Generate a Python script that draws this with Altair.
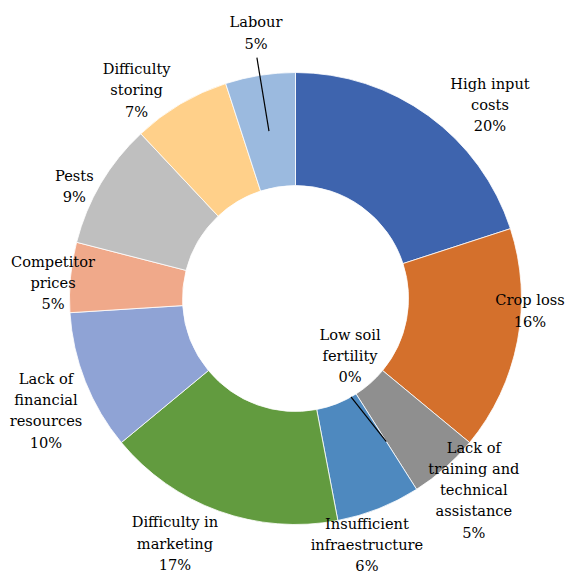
import math
import altair as alt
import pandas as pd

# ---------------- data ----------------
categories = [
    "High input costs", "Crop loss", "Lack of training and technical assistance",
    "Low soil fertility", "Insufficient infraestructure", "Difficulty in marketing",
    "Lack of financial resources", "Competitor prices", "Pests",
    "Difficulty storing", "Labour",
]
label_lines = [
    ["High input", "costs"], ["Crop loss"],
    ["Lack of", "training and", "technical", "assistance"],
    ["Low soil", "fertility"], ["Insufficient", "infraestructure"],
    ["Difficulty in", "marketing"], ["Lack of", "financial", "resources"],
    ["Competitor", "prices"], ["Pests"], ["Difficulty", "storing"], ["Labour"],
]
values = [20, 16, 5, 0, 6, 17, 10, 5, 9, 7, 5]

# ---------------- styling / layout ----------------
colors = ["#3E64AE", "#D4702C", "#8F8F8F", "#E8B000", "#4E89BF", "#629B3F",
          "#8FA3D5", "#F0A98A", "#BFBFBF", "#FFD08A", "#9BBADF"]
W, H = 541, 551
PAD = {"left": 25, "top": 23, "right": 0, "bottom": 1}
R_OUT, R_IN = 226, 113
R_MID = (R_OUT + R_IN) / 2
FONT = "DejaVu Serif"
FS, LH = 14.6, 21.3
# manual label placement (the original's labels were dragged by hand):
# centre of each label block, as angle nudge from slice middle and radius
label_nudge_deg = [9.3, -7.5, -1.4, -10.6, 5.5, 6.3, -2.8, -2.0, -4.0, -6.9, 0.5]
label_radius = [273.6, 234.9, 262.5, 80, 257.6, 274, 274, 242.9, 247.3, 261, 267.4]
# leader lines: label index -> start point (deg, radius)
leaders = {10: (350.9, 244), 3: (150.6, 113)}

total = sum(values)
cum = 0
mids = []
for v in values:
    mids.append(cum + v / 2)
    cum += v

texts, thetas, radii = [], [], []
for lines_, v, m, nd, r in zip(label_lines, values, mids, label_nudge_deg, label_radius):
    ls = lines_ + [f"{v}%"]
    texts.append("\n".join(ls))
    a = math.radians(m / total * 360 + nd)
    cx, cy = r * math.sin(a), -r * math.cos(a)          # block centre (y down)
    fy = cy - (len(ls) - 1) / 2 * LH                     # first line anchor
    rr = math.hypot(cx, fy)
    aa = math.degrees(math.atan2(cx, -fy)) % 360
    thetas.append(aa / 360 * total)
    radii.append(rr)

df = pd.DataFrame({
    "category": categories,
    "value": values,
    "idx": list(range(len(values))),
    "label": texts,
    "label_theta": thetas,
    "label_r": radii,
})

rows = []
for i, (a0, r0) in leaders.items():
    a1 = mids[i] / total * 360
    rows.append({
        "x": r0 * math.sin(math.radians(a0)), "y": r0 * math.cos(math.radians(a0)),
        "x2": R_MID * math.sin(math.radians(a1)), "y2": R_MID * math.cos(math.radians(a1)),
    })
lead_df = pd.DataFrame(rows)

theta_scale = alt.Scale(domain=[0, total])

arcs = alt.Chart(df).transform_filter("datum.value > 0").mark_arc(
    outerRadius=R_OUT, innerRadius=R_IN, stroke="white", strokeWidth=0.8
).encode(
    theta=alt.Theta("value:Q", stack=True, scale=theta_scale),
    color=alt.Color("category:N", scale=alt.Scale(domain=categories, range=colors), legend=None),
    order=alt.Order("idx:Q"),
)

labels = alt.Chart(df).mark_text(
    lineBreak="\n", align="center", baseline="middle",
    font=FONT, fontSize=FS, lineHeight=LH, color="black",
).encode(
    theta=alt.Theta("label_theta:Q", stack=None, scale=theta_scale),
    radius=alt.Radius("label_r:Q", scale=None),
    text="label:N",
)

lines = alt.Chart(lead_df).mark_rule(color="black", strokeWidth=1.2).encode(
    x=alt.X("x:Q", scale=alt.Scale(domain=[-W / 2, W / 2], nice=False, zero=False), axis=None),
    y=alt.Y("y:Q", scale=alt.Scale(domain=[-H / 2, H / 2], nice=False, zero=False), axis=None),
    x2="x2:Q",
    y2="y2:Q",
)

chart = alt.layer(arcs, lines, labels).properties(
    width=W, height=H, padding=PAD, autosize=alt.AutoSizeParams(type="none"),
    background="white",
).configure_view(strokeWidth=0)

chart.save("out.html", embed_options={"renderer": "svg", "actions": False})
